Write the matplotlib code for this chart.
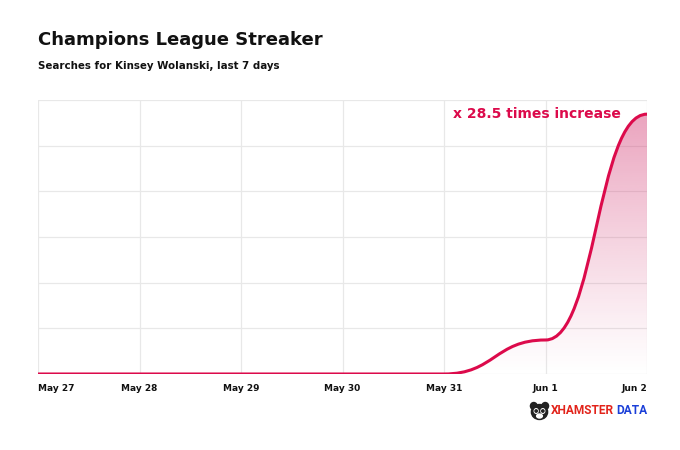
import numpy as np
import matplotlib
matplotlib.use("Agg")
import matplotlib.pyplot as plt
from matplotlib.path import Path
from matplotlib.patches import PathPatch, Circle, Ellipse

# data: relative search interest (baseline = 1)
days = ['May 27', 'May 28', 'May 29', 'May 30', 'May 31', 'Jun 1', 'Jun 2']
searches = [1.0, 1.0, 1.0, 1.0, 1.0, 4.6, 28.5]
title = 'Champions League Streaker'
subtitle = 'Searches for Kinsey Wolanski, last 7 days'
note = 'x 28.5 times increase'

RED = '#DC0A4B'
GRID = '#E8E8E8'

plt.rcParams['font.family'] = ['DejaVu Sans']

fig = plt.figure(figsize=(6.8, 4.5), dpi=100)
ax = fig.add_axes([38 / 680, 76 / 450, 609 / 680, 274 / 450])

x = np.arange(len(days))
y = np.array(searches)

# smooth curve: cubic bezier per segment with horizontal handles
verts = [(x[0], y[0])]
codes = [Path.MOVETO]
for i in range(len(x) - 1):
    mx = (x[i] + x[i + 1]) / 2
    verts += [(mx, y[i]), (mx, y[i + 1]), (x[i + 1], y[i + 1])]
    codes += [Path.CURVE4] * 3
line_path = Path(verts, codes)

ymin, ymax = 1.0, 30.0
fill_verts = verts + [(x[-1], ymin), (x[0], ymin), (x[0], y[0])]
fill_codes = codes + [Path.LINETO, Path.LINETO, Path.CLOSEPOLY]
fill_patch = PathPatch(Path(fill_verts, fill_codes), facecolor='none', edgecolor='none')
ax.add_patch(fill_patch)

# vertical gradient for area
grad = np.zeros((256, 1, 4))
grad[:, 0, :3] = matplotlib.colors.to_rgb('#D2346F')
grad[:, 0, 3] = np.linspace(0.0, 0.48, 256) ** 1.1
im = ax.imshow(grad, extent=[x[0], x[-1], ymin, max(searches)], origin='lower',
               aspect='auto', zorder=1, interpolation='bilinear')
im.set_clip_path(fill_patch)

ax.add_patch(PathPatch(line_path, facecolor='none', edgecolor=RED, lw=2.2,
                       zorder=3, capstyle='round'))

ax.set_xlim(x[0], x[-1])
ax.set_ylim(ymin, ymax)
ax.set_yticks(np.linspace(ymin, ymax, 7))
ax.set_yticklabels([])
ax.set_xticks(x)
ax.set_xticklabels(days, fontsize=6.5, fontweight='bold', color='#111111')
ax.tick_params(length=0, pad=7)
ax.get_xticklabels()[0].set_ha('left')
ax.get_xticklabels()[-1].set_ha('right')
ax.grid(True, color=GRID, lw=0.9, zorder=0)
ax.set_axisbelow(True)
for s in ax.spines.values():
    s.set_visible(False)

fig.text(621 / 680, 1 - 114 / 450, note, ha='right', va='center',
         fontsize=10, fontweight='bold', color=RED)

fig.text(38 / 680, 1 - 40 / 450, title, fontsize=13, fontweight='bold',
         color='#111111', va='center', ha='left')
fig.text(38 / 680, 1 - 66 / 450, subtitle, fontsize=7.4, fontweight='bold',
         color='#111111', va='center', ha='left')

# logo
t_data = fig.text(647 / 680, 1 - 411 / 450, 'DATA', fontsize=8.6, fontweight='bold',
                  family='Roboto', color='#1B3FD8', ha='right', va='center')
fig.canvas.draw()
bb = t_data.get_window_extent()
fig.text((bb.x0 - 1.5) / 680, 1 - 411 / 450, 'XHAMSTER', fontsize=8.6, fontweight='bold',
         family='Roboto', color='#E2231A', ha='right', va='center')
lax = fig.add_axes([529 / 680, 1 - 421 / 450, 21 / 680, 20 / 450])
lax.set_xlim(0, 22)
lax.set_ylim(0, 20)
lax.axis('off')
lax.add_patch(Circle((5, 15), 3.5, color='#222222'))
lax.add_patch(Circle((17, 15), 3.5, color='#222222'))
lax.add_patch(Ellipse((11, 9), 17, 15, color='#222222'))
lax.add_patch(Ellipse((7.5, 10), 4, 4.5, color='white'))
lax.add_patch(Ellipse((14.5, 10), 4, 4.5, color='white'))
lax.add_patch(Circle((7.5, 10), 1.2, color='#222222'))
lax.add_patch(Circle((14.5, 10), 1.2, color='#222222'))
lax.add_patch(Ellipse((11, 5), 6, 4, color='white'))

fig.savefig('out.png', dpi=100, facecolor='white')
